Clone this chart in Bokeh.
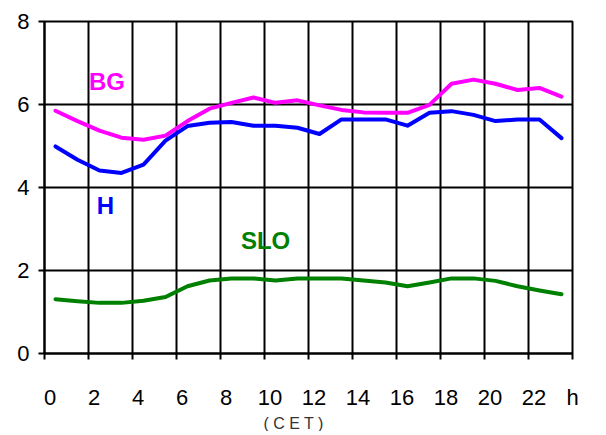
from bokeh.plotting import figure
from bokeh.models import FixedTicker, Label, Range1d, Title
from bokeh.embed import file_html
from bokeh.resources import INLINE

hours = list(range(24))
bg = [5.85, 5.6, 5.37, 5.2, 5.15, 5.25, 5.6, 5.9, 6.04, 6.17, 6.04, 6.1,
      5.98, 5.87, 5.81, 5.8, 5.8, 5.99, 6.5, 6.6, 6.5, 6.35, 6.4, 6.19]
hu = [4.99, 4.67, 4.41, 4.35, 4.55, 5.13, 5.48, 5.56, 5.58, 5.49, 5.49, 5.44,
      5.29, 5.64, 5.64, 5.64, 5.49, 5.8, 5.84, 5.75, 5.6, 5.64, 5.64, 5.19]
slo = [1.31, 1.26, 1.22, 1.22, 1.27, 1.36, 1.62, 1.76, 1.81, 1.81, 1.76, 1.81,
       1.81, 1.81, 1.76, 1.71, 1.62, 1.71, 1.81, 1.81, 1.75, 1.62, 1.52, 1.43]
x_labels = ["0", "2", "4", "6", "8", "10", "12", "14", "16", "18", "20", "22", "h"]
y_ticks = [0, 2, 4, 6, 8]

xs = [h + 0.5 for h in hours]
bounds = list(range(0, 25, 2))
label_pos = [b + 0.25 for b in bounds[:-1]] + [24]

FONT = "Liberation Sans"

p = figure(frame_width=528, frame_height=332, output_backend="svg", toolbar_location=None,
           x_range=Range1d(0, 24), y_range=Range1d(0, 8),
           min_border_left=44, min_border_right=26, min_border_top=21,
           min_border_bottom=10)
p.background_fill_color = "white"
p.border_fill_color = "white"
p.outline_line_color = "black"
p.outline_line_width = 2

# x axis
xa = p.xaxis[0]
xa.ticker = FixedTicker(ticks=label_pos, minor_ticks=bounds)
xa.major_label_overrides = {t: s for t, s in zip(label_pos, x_labels)}
xa.major_tick_out = 0
xa.major_tick_in = 0
xa.minor_tick_out = 6
xa.minor_tick_in = 0
xa.minor_tick_line_color = "black"
xa.minor_tick_line_width = 2
xa.axis_line_color = "black"
xa.axis_line_width = 2
xa.major_label_standoff = 25
xa.major_label_text_font = FONT
xa.major_label_text_font_size = "22px"
xa.major_label_text_color = "black"

# "(CET)" caption under the axis
p.add_layout(Title(text="( C E T )", align="left", offset=219, standoff=0,
                   text_font=FONT, text_font_size="16px", text_font_style="normal",
                   text_color="#333333"), "below")

# y axis
ya = p.yaxis[0]
ya.ticker = FixedTicker(ticks=y_ticks)
ya.major_tick_out = 6
ya.major_tick_in = 0
ya.minor_tick_out = 0
ya.minor_tick_in = 0
ya.major_tick_line_color = "black"
ya.major_tick_line_width = 2
ya.axis_line_color = "black"
ya.axis_line_width = 2
ya.major_label_standoff = 9
ya.major_label_text_font = FONT
ya.major_label_text_font_size = "22px"
ya.major_label_text_color = "black"

p.xgrid.ticker = FixedTicker(ticks=bounds)
p.ygrid.ticker = FixedTicker(ticks=y_ticks)
for g in (p.xgrid, p.ygrid):
    g.grid_line_color = "black"
    g.grid_line_width = 2
    g.grid_line_alpha = 1.0

p.line(xs, bg, line_color="#FF00FF", line_width=4, line_join="round", line_cap="round")
p.line(xs, hu, line_color="#0000FF", line_width=4, line_join="round", line_cap="round")
p.line(xs, slo, line_color="#008000", line_width=4, line_join="round", line_cap="round")

def lab(x, y, text, color):
    p.add_layout(Label(x=x, y=y, text=text, text_color=color, text_font=FONT,
                       text_font_size="24px", text_font_style="bold",
                       text_align="center", text_baseline="middle"))

lab(2.84, 6.55, "BG", "#FF00FF")
lab(2.77, 3.57, "H", "#0000FF")
lab(10.05, 2.72, "SLO", "#008000")

open("out.html", "w").write(file_html(p, INLINE))
